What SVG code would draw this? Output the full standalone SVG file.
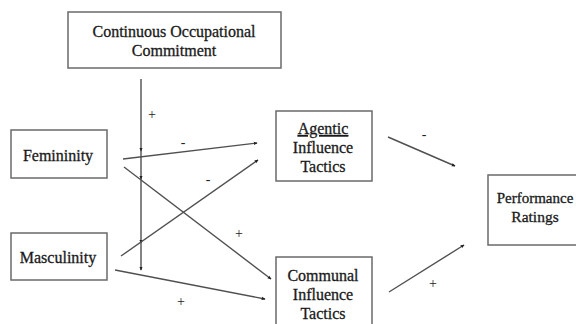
<svg xmlns="http://www.w3.org/2000/svg" width="576" height="324" viewBox="0 0 576 324">
<defs>
<style>
.box{fill:#fff;stroke:#6a6a6a;stroke-width:1.5}
.t{font-size:16px;fill:#1a1a1a;text-anchor:middle;stroke:#1a1a1a;stroke-width:0.3}
.c{stroke:#505050;stroke-width:1.4;fill:none;marker-end:url(#ah)}
.l{font-size:14px;fill:#222;text-anchor:middle}
</style>
<marker id="ah" viewBox="0 0 6 6" refX="5" refY="3" markerWidth="4" markerHeight="4" orient="auto" markerUnits="userSpaceOnUse">
<path d="M0,0.5 L6,3 L0,5.5 Z" fill="#222"/>
</marker>
</defs>
<rect width="576" height="324" fill="#fff"/>
<g id="commitment">
<rect class="box" x="68" y="12" width="213" height="56"/>
<text class="t" x="174" y="37" style="font-family:'Liberation Serif',serif">Continuous Occupational</text>
<text class="t" x="174" y="56" style="font-family:'Liberation Serif',serif">Commitment</text>
</g>
<g id="femininity">
<rect class="box" x="11" y="130" width="96" height="48"/>
<text class="t" x="58" y="161" style="font-family:'Liberation Serif',serif">Femininity</text>
</g>
<g id="masculinity">
<rect class="box" x="11" y="233" width="96" height="47"/>
<text class="t" x="58" y="263" style="font-family:'Liberation Serif',serif">Masculinity</text>
</g>
<g id="agentic">
<rect class="box" x="276" y="111" width="96" height="70"/>
<text class="t" x="323" y="134" text-decoration="underline" style="font-family:'Liberation Serif',serif">Agentic</text>
<text class="t" x="323" y="153" style="font-family:'Liberation Serif',serif">Influence</text>
<text class="t" x="323" y="172" style="font-family:'Liberation Serif',serif">Tactics</text>
</g>
<g id="communal">
<rect class="box" x="276" y="257" width="96" height="80"/>
<text class="t" x="323" y="281" style="font-family:'Liberation Serif',serif">Communal</text>
<text class="t" x="323" y="300" style="font-family:'Liberation Serif',serif">Influence</text>
<text class="t" x="323" y="319" style="font-family:'Liberation Serif',serif">Tactics</text>
</g>
<g id="performance">
<rect class="box" x="488" y="175" width="100" height="70"/>
<text class="t" x="535" y="203" style="font-family:'Liberation Serif',serif;font-size:15px">Performance</text>
<text class="t" x="535" y="222" style="font-family:'Liberation Serif',serif;font-size:15.5px">Ratings</text>
</g>
<g id="connectors">
<line class="c" x1="141" y1="79" x2="141" y2="151"/>
<line class="c" x1="141" y1="151" x2="141" y2="179"/>
<line class="c" x1="141" y1="179" x2="141" y2="243"/>
<line class="c" x1="141" y1="243" x2="141" y2="270"/>
<line class="c" x1="123" y1="159" x2="257" y2="143"/>
<line class="c" x1="124" y1="167" x2="271" y2="279"/>
<line class="c" x1="121" y1="256" x2="258" y2="160"/>
<line class="c" x1="115" y1="270" x2="265" y2="299"/>
<line class="c" x1="388" y1="137" x2="455" y2="166"/>
<line class="c" x1="389" y1="292" x2="464" y2="245"/>
<text class="l" x="152" y="119" style="font-family:'Liberation Serif',serif">+</text>
<text class="l" x="183" y="147" style="font-family:'Liberation Serif',serif">-</text>
<text class="l" x="208" y="184" style="font-family:'Liberation Serif',serif">-</text>
<text class="l" x="239" y="238" style="font-family:'Liberation Serif',serif">+</text>
<text class="l" x="181" y="306" style="font-family:'Liberation Serif',serif">+</text>
<text class="l" x="424" y="139" style="font-family:'Liberation Serif',serif">-</text>
<text class="l" x="433" y="288" style="font-family:'Liberation Serif',serif">+</text>
</g>
</svg>
